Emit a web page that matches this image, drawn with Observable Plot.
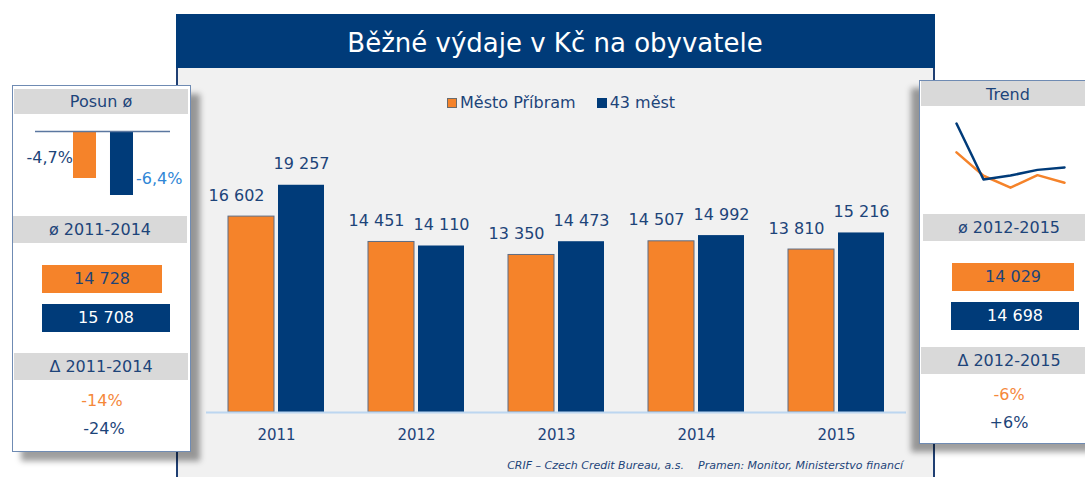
<!DOCTYPE html>
<html><head><meta charset="utf-8">
<script src="https://cdn.jsdelivr.net/npm/d3@7"></script>
<script src="https://cdn.jsdelivr.net/npm/@observablehq/plot@0.6"></script>
<style>
body{margin:0;background:#fff;font-family:"DejaVu Sans",Verdana,sans-serif;}
#root{position:relative;width:1085px;height:477px;overflow:hidden;background:#fff;}
.a{position:absolute;box-sizing:border-box;}
.t{position:absolute;white-space:nowrap;transform:translate(-50%,-50%);font-size:16px;line-height:1;}
.band{position:absolute;background:#d9d9d9;}
svg{position:absolute;overflow:visible;}
</style></head><body><div id="root"></div>
<script>
const years = ["2011","2012","2013","2014","2015"];
const series = ["Město Příbram","43 měst"];
const pribram = [16602,14451,13350,14507,13810];
const mest43 = [19257,14110,14473,14992,15216];
const posun = [-4.7,-6.4];
const posunLabels = ["-4,7%","-6,4%"];
const avg1114 = [14728,15708];
const delta1114 = ["-14%","-24%"];
const avg1215 = [14029,14698];
const delta1215 = ["-6%","+6%"];
const title = "Běžné výdaje v Kč na obyvatele";
const footer = "CRIF – Czech Credit Bureau, a.s.\u00a0\u00a0\u00a0\u00a0Pramen: Monitor, Ministerstvo financí";

const colors = ["#F5832A","#003B79"];
const navyText = "#1d4479";
const font = '"DejaVu Sans",Verdana,sans-serif';
const fmt = v => d3.format(",")(v).replace(/,/g," ");
const root = document.getElementById("root");

function div(cls, style, text){
  const d = document.createElement("div");
  d.className = cls;
  Object.assign(d.style, style);
  if (text !== undefined) d.textContent = text;
  root.appendChild(d);
  return d;
}
function place(svg, left, top){
  svg.style.left = left + "px"; svg.style.top = top + "px";
  root.appendChild(svg);
}

// Main panel
div("a", {left:"176px", top:"67px", width:"759px", height:"410px", background:"#f1f1f1",
  borderLeft:"2px solid #1f3f73", borderRight:"2px solid #1f3f73"});
div("a", {left:"176px", top:"14px", width:"759px", height:"54px", background:"#003B79"});
div("t", {left:"555px", top:"43px", color:"#fff", fontSize:"26px"}, title);

// Legend
const leg = div("a", {left:"447px", top:"93px", display:"flex", alignItems:"center", fontSize:"16px", color:navyText, whiteSpace:"nowrap"});
series.forEach((s,i)=>{
  const sw = document.createElement("span");
  Object.assign(sw.style, {display:"inline-block", width:"10px", height:"10px", background:colors[i],
    border: i===0 ? "1px solid #6b6b6b" : "none", boxSizing:"border-box", marginRight:"3px", marginLeft: i? "21px":"0"});
  const tx = document.createElement("span"); tx.textContent = s;
  leg.appendChild(sw); leg.appendChild(tx);
});

// Main chart
const data = years.flatMap((y,i)=>[
  {year:y, series:series[0], value:pribram[i]},
  {year:y, series:series[1], value:mest43[i]}
]);
const mainChart = Plot.plot({
  width:759, height:335, marginTop:56, marginBottom:43, marginLeft:30, marginRight:29,
  style:{background:"transparent", fontFamily:font, fontSize:"15px", color:navyText},
  fx:{domain:years, padding:0, label:null, axis:"bottom", tickSize:0, tickPadding:17},
  x:{domain:series, paddingInner:0.08, paddingOuter:0.44, axis:null},
  y:{domain:[0,20000], axis:null},
  color:{domain:series, range:colors},
  marks:[
    Plot.barY(data.filter(d=>d.series===series[0]), {fx:"year", x:"series", y:"value", fill:"series", stroke:"#5d6d85", strokeWidth:1}),
    Plot.barY(data.filter(d=>d.series===series[1]), {fx:"year", x:"series", y:"value", fill:"series"}),
    Plot.ruleY([0], {stroke:"#bcd6f0", strokeWidth:2}),
    Plot.text(data.filter(d=>d.series===series[0]), {fx:"year", x:"series", y:"value", text:d=>fmt(d.value), dy:-21, dx:-15, fill:navyText, fontSize:16}),
    Plot.text(data.filter(d=>d.series===series[1]), {fx:"year", x:"series", y:"value", text:d=>fmt(d.value), dy:-21, fill:navyText, fontSize:16})
  ]
});
place(mainChart, 176, 120);

// Footer
div("a", {right:(1085-903)+"px", top:"459px", fontSize:"11px", fontStyle:"italic", color:navyText, whiteSpace:"nowrap"}, footer);

// Left panel
div("a", {left:"12px", top:"85px", width:"179px", height:"367px", background:"#fff",
  border:"1.5px solid #6f8bb3", boxShadow:"9px 9px 6px rgba(0,0,0,0.38)"});
div("band", {left:"14px", top:"89px", width:"174px", height:"25px"});
div("t", {left:"101px", top:"102px", color:navyText}, "Posun ø");

const posunData = series.map((s,i)=>({series:s, value:posun[i], label:posunLabels[i]}));
const mini = Plot.plot({
  width:145, height:90, marginTop:11, marginBottom:9, marginLeft:5, marginRight:5,
  style:{background:"transparent", fontFamily:font, fontSize:"16px"},
  x:{domain:series, range:[43,103], paddingInner:0.378, paddingOuter:0, axis:null, round:false},
  y:{domain:[-7,0], axis:null},
  color:{domain:series, range:colors},
  marks:[
    Plot.barY(posunData, {x:"series", y:"value", fill:"series"}),
    Plot.ruleY([0], {stroke:"#5b77a0", strokeWidth:1.5}),
    Plot.text(posunData.slice(0,1), {x:"series", y:"value", text:"label", textAnchor:"end", dx:-12, dy:-21, fill:navyText, fontSize:16}),
    Plot.text(posunData.slice(1,2), {x:"series", y:"value", text:"label", textAnchor:"start", dx:14, dy:-17, fill:"#2f86d6", fontSize:16})
  ]
});
place(mini, 30, 120);

div("band", {left:"13px", top:"216px", width:"174px", height:"27px"});
div("t", {left:"100px", top:"230px", color:navyText}, "ø 2011-2014");
div("a", {left:"42px", top:"265px", width:"120px", height:"28px", background:colors[0]});
div("t", {left:"102px", top:"279px", color:navyText}, fmt(avg1114[0]));
div("a", {left:"42px", top:"304px", width:"128px", height:"28px", background:colors[1]});
div("t", {left:"106px", top:"318px", color:"#fff"}, fmt(avg1114[1]));
div("band", {left:"14px", top:"353px", width:"174px", height:"27px"});
div("t", {left:"101px", top:"367px", color:navyText}, "Δ 2011-2014");
div("t", {left:"102px", top:"401px", color:"#f5883a"}, delta1114[0]);
div("t", {left:"104px", top:"429px", color:navyText}, delta1114[1]);

// Right panel
div("a", {left:"919px", top:"80px", width:"200px", height:"364px", background:"#fff",
  border:"1.5px solid #6f8bb3", boxShadow:"-8px 8px 6px rgba(0,0,0,0.38)"});
div("band", {left:"921px", top:"81px", width:"170px", height:"25px"});
div("t", {left:"1008px", top:"95px", color:navyText}, "Trend");

const trend = Plot.plot({
  width:140, height:100, marginTop:5, marginBottom:19, marginLeft:16, marginRight:16,
  style:{background:"transparent"},
  x:{domain:years, type:"point", padding:0, axis:null},
  y:{domain:[13000,20000], axis:null},
  color:{domain:series, range:colors},
  marks:[
    Plot.line(data, {x:"year", y:"value", z:"series", stroke:"series", strokeWidth:2.5, curve:"linear"})
  ]
});
place(trend, 940, 110);

div("band", {left:"923px", top:"214px", width:"170px", height:"27px"});
div("t", {left:"1009px", top:"228px", color:navyText}, "ø 2012-2015");
div("a", {left:"952px", top:"263px", width:"122px", height:"28px", background:colors[0]});
div("t", {left:"1013px", top:"277px", color:navyText}, fmt(avg1215[0]));
div("a", {left:"951px", top:"302px", width:"128px", height:"28px", background:colors[1]});
div("t", {left:"1015px", top:"316px", color:"#fff"}, fmt(avg1215[1]));
div("band", {left:"921px", top:"347px", width:"170px", height:"27px"});
div("t", {left:"1009px", top:"361px", color:navyText}, "Δ 2012-2015");
div("t", {left:"1009px", top:"395px", color:"#f5883a"}, delta1215[0]);
div("t", {left:"1009px", top:"423px", color:navyText}, delta1215[1]);
</script></body></html>
